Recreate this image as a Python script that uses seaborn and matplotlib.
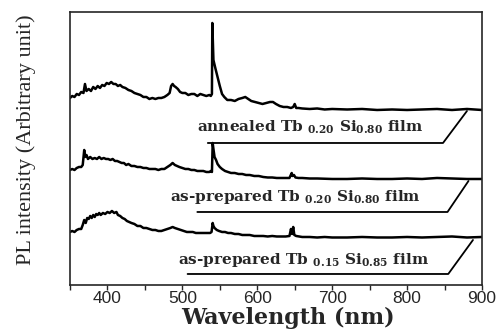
import numpy as np
import pandas as pd
import matplotlib
matplotlib.use("Agg")
import matplotlib.pyplot as plt
import seaborn as sns

# PL spectra (wavelength in nm, intensity above each baseline)
wl_annealed = [350, 353, 356, 359, 362, 365, 368, 370, 372, 375, 378, 381, 384, 387, 390, 393, 396, 399,
               402, 405, 408, 411, 414, 417, 420, 424, 428, 432, 436, 440, 444, 448, 452, 456, 460, 464,
               468, 472, 476, 480, 483, 485, 487, 489, 491, 494, 497, 500, 504, 508, 512, 516, 520, 524,
               528, 532, 536, 538, 539.5, 540, 541.5, 544, 547, 550, 553, 556, 560, 565, 570, 575, 580,
               584, 588, 592, 597, 602, 607, 612, 617, 621, 625, 630, 635, 640, 645, 648, 650, 652, 655,
               660, 670, 680, 690, 700, 720, 740, 760, 780, 800, 820, 840, 860, 880, 900]
pl_annealed = [12, 14, 13, 16, 15, 18, 17, 26, 19, 21, 19, 23, 21, 24, 22, 25, 24, 27,
               26, 28, 26, 26, 24, 25, 23, 22, 20, 19, 17, 16, 15, 13, 13, 11, 12, 11,
               12, 12, 13, 15, 17, 24, 26, 24, 23, 21, 18, 17, 17, 15, 16, 16, 14, 16,
               15, 14, 15, 14, 16, 87, 50, 42, 33, 24, 16, 13, 10, 10, 9, 11, 12,
               13, 11, 9, 8, 7, 6, 7, 8, 8, 6, 4, 3, 3, 2, 3, 6, 2, 2,
               1.5, 1, 1.5, 0.5, 1, 0.5, 1, 0, 0.5, 0, 0.5, 1, 0, 1, 0]

wl_prep20 = [350, 353, 356, 359, 362, 365, 367, 369, 370, 372, 374, 377, 380, 383, 386, 389, 392, 395,
             398, 401, 404, 407, 410, 413, 416, 419, 422, 425, 428, 432, 436, 440, 444, 448, 452, 456,
             460, 464, 468, 472, 476, 480, 484, 487, 490, 493, 496, 500, 504, 508, 512, 516, 520, 524,
             528, 532, 536, 538, 539.5, 540.5, 541.5, 543, 545, 547, 550, 553, 557, 561, 565, 570, 575,
             580, 585, 590, 596, 602, 608, 614, 620, 626, 632, 638, 643, 646, 647, 649, 651, 655, 660,
             670, 680, 700, 720, 740, 760, 780, 800, 820, 840, 860, 880, 900]
pl_prep20 = [9, 10, 9, 11, 12, 12, 14, 29, 22, 24, 20, 22, 20, 21, 20, 22, 20, 21,
             20, 20, 19, 20, 18, 18, 17, 16, 16, 14, 15, 13, 13, 12, 12, 11, 11, 10,
             10, 10, 9, 10, 10, 12, 14, 16, 14, 13, 12, 11, 10, 10, 9, 9, 8, 8,
             8, 7, 7, 8, 7, 36, 30, 22, 19, 15, 12, 10, 8, 7, 6, 6, 5,
             5, 4, 4, 3, 3, 2, 1.5, 1.5, 1, 1, 1, 1, 6, 3, 4, 1.5, 1, 1,
             0.5, 0.5, 0, 0, 0.5, 0, 0, 0.5, 0, 1, 0.5, 0, 0]

wl_prep15 = [350, 353, 356, 359, 362, 365, 367, 369, 371, 373, 375, 377, 379, 381, 383, 385, 387, 389,
             391, 394, 397, 400, 403, 406, 409, 412, 414, 417, 420, 423, 426, 429, 432, 436, 440, 444,
             448, 452, 456, 460, 464, 468, 472, 476, 480, 484, 487, 490, 494, 498, 502, 506, 510, 514,
             518, 522, 526, 530, 534, 537, 539, 540.5, 541.5, 543, 546, 549, 553, 557, 561, 565, 570,
             575, 580, 585, 590, 596, 602, 608, 614, 620, 626, 632, 638, 643, 645, 646.5, 648, 649.5,
             652, 656, 660, 670, 680, 690, 700, 720, 740, 760, 780, 800, 820, 840, 860, 880, 900]
pl_prep15 = [6, 7, 6, 8, 9, 9, 13, 18, 15, 20, 19, 22, 20, 23, 21, 24, 23, 25,
             23, 25, 24, 26, 25, 27, 25, 26, 23, 22, 20, 19, 17, 16, 15, 14, 12, 12,
             10, 10, 9, 8, 8, 7, 7, 8, 9, 10, 11, 10, 9, 8, 7, 6, 6, 6,
             5, 5, 5, 5, 5, 5, 6, 15, 12, 10, 8, 7, 6, 6, 5, 5, 4,
             4, 3, 3, 3, 2, 2, 2, 1.5, 2, 1.5, 1.5, 1.5, 2, 9, 4, 11, 3,
             2, 1.5, 1, 1, 0.5, 1, 0.5, 0.5, 1, 0.5, 0.5, 1, 0.5, 1, 1.5, 0.5, 1]

offsets = [175, 106, 47]
labels = [r"annealed Tb $_{0.20}$ Si$_{0.80}$ film",
          r"as-prepared Tb $_{0.20}$ Si$_{0.80}$ film",
          r"as-prepared Tb $_{0.15}$ Si$_{0.85}$ film"]
label_pos = [(519, 158), (484, 88), (494, 25)]
# tag outline under each label: start of underline, corner, top of slanted edge
tag_x = [[534, 848, 880], [520, 854, 882], [507, 855, 888]]
tag_y = [[142, 142, 174], [73, 73, 104], [11, 11, 45]]

spectra = [(wl_annealed, pl_annealed), (wl_prep20, pl_prep20), (wl_prep15, pl_prep15)]

sns.set_style("ticks")
plt.rcParams["font.family"] = ["Liberation Serif", "DejaVu Serif"]
plt.rcParams["mathtext.fontset"] = "dejavuserif"
plt.rcParams["mathtext.default"] = "bf"

fig = plt.figure(figsize=(5.01, 3.32), dpi=100)
ax = fig.add_axes([0.1397, 0.1416, 0.8223, 0.8223])

for (wl, pl), off in zip(spectra, offsets):
    df = pd.DataFrame({"wl": wl, "pl": np.array(pl) + off})
    sns.lineplot(data=df, x="wl", y="pl", ax=ax, color="black", linewidth=1.8,
                 estimator=None, sort=False)

for lab, (tx, ty), bx, by in zip(labels, label_pos, tag_x, tag_y):
    ax.text(tx, ty, lab, fontsize=11, fontweight="bold", family="DejaVu Serif",
            va="center", ha="left")
    ax.plot(bx, by, color="black", linewidth=1.3)

ax.set_xlim(350, 900)
ax.set_ylim(0, 273)
ax.set_xticks([400, 500, 600, 700, 800, 900])
ax.set_xticks(np.arange(350, 901, 50), minor=True)
ax.set_yticks([])
ax.tick_params(axis="x", which="both", direction="out", length=3.5, width=1, pad=1)
for lbl in ax.get_xticklabels():
    lbl.set_family("Liberation Sans")
    lbl.set_fontsize(12.5)
for s in ax.spines.values():
    s.set_linewidth(1.2)
    s.set_visible(True)

ax.set_xlabel("Wavelength (nm)", fontsize=16, fontweight="bold", family="DejaVu Serif")
ax.xaxis.set_label_coords(0.528, -0.08)
ax.set_ylabel("PL intensity (Arbitrary unit)", fontsize=16)
ax.yaxis.set_label_coords(-0.082, 0.531)

fig.savefig("out.png", dpi=100)
